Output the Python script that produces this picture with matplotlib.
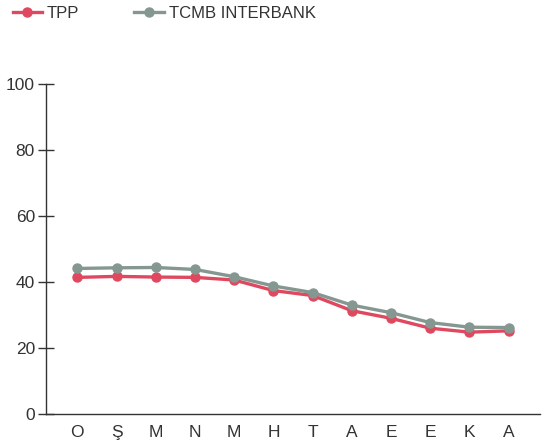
import numpy as np
import matplotlib.pyplot as plt

plt.rcParams['font.family'] = ['Liberation Sans', 'DejaVu Sans']

# 月份缩写
months = ['O', 'Ş', 'M', 'N', 'M', 'H', 'T', 'A', 'E', 'E', 'K', 'A']
tpp = [41.4, 41.7, 41.5, 41.4, 40.6, 37.4, 35.9, 31.3, 29.0, 26.0, 24.8, 25.2]
tcmb = [44.1, 44.3, 44.4, 43.8, 41.6, 38.8, 36.8, 33.0, 30.7, 27.7, 26.3, 26.2]

red = '#e0485f'
grey = '#849891'

fig = plt.figure(figsize=(5.43, 4.47), dpi=100)
ax = fig.add_axes([46 / 543, 33 / 447, 494 / 543, 330 / 447])

x = np.arange(len(months))
ax.plot(x, tpp, color=red, lw=2.4, marker='o', ms=6.5, label='TPP', zorder=3)
ax.plot(x, tcmb, color=grey, lw=2.4, marker='o', ms=6.5, label='TCMB INTERBANK', zorder=4)

ax.set_xlim(-0.8, 11.8)
ax.set_ylim(0, 100)
ax.set_yticks([0, 20, 40, 60, 80, 100])
ax.set_xticks(x)
ax.set_xticklabels(months)

ax.spines['top'].set_visible(False)
ax.spines['right'].set_visible(False)
for s in ['left', 'bottom']:
    ax.spines[s].set_color('#333333')
    ax.spines[s].set_linewidth(1.0)

ax.tick_params(axis='y', direction='inout', length=12, width=1.0, color='#333333',
               labelsize=12.5, labelcolor='#333333', pad=2)
ax.tick_params(axis='x', length=0, labelsize=12.5, labelcolor='#333333', pad=8)

fig.legend(loc='upper left', bbox_to_anchor=(-0.004, 1.02), ncol=2, frameon=False,
           fontsize=12, handlelength=1.75, handletextpad=0.3, columnspacing=3.3,
           labelcolor='#333333')

fig.savefig('out.png', dpi=100)
